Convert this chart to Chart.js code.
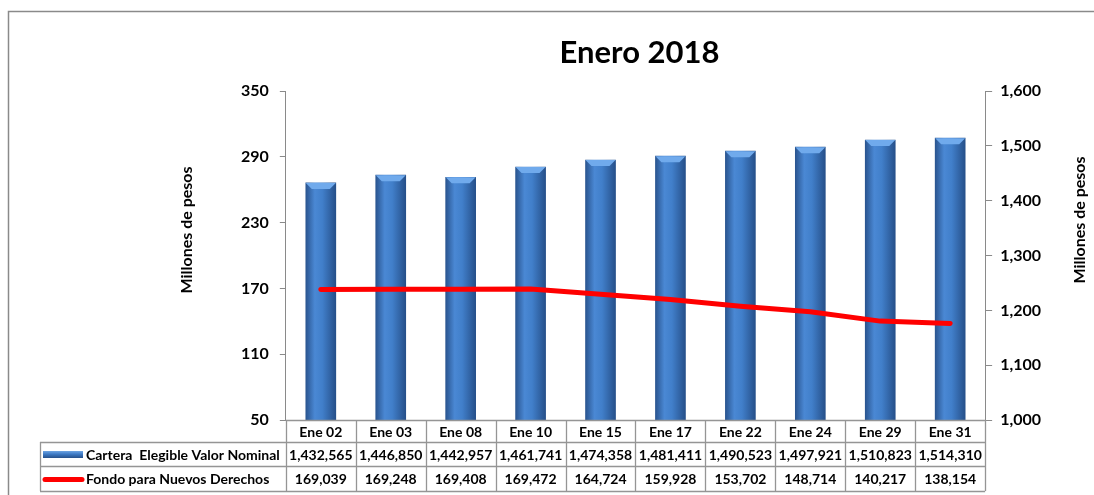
<!DOCTYPE html>
<html>
<head>
<meta charset="utf-8">
<script src="https://cdn.jsdelivr.net/npm/chart.js@4/dist/chart.umd.min.js"></script>
<style>
  html, body { margin: 0; padding: 0; background: #fff; }
  #wrap { width: 1094px; height: 495px; }
</style>
</head>
<body>
<div id="wrap"><canvas id="chart" width="1094" height="495"></canvas></div>
<script>
// Datos (miles de pesos en la tabla, millones en el grafico)
const fechas = ['Ene 02', 'Ene 03', 'Ene 08', 'Ene 10', 'Ene 15', 'Ene 17', 'Ene 22', 'Ene 24', 'Ene 29', 'Ene 31'];
const carteraElegible = [1432565, 1446850, 1442957, 1461741, 1474358, 1481411, 1490523, 1497921, 1510823, 1514310];
const fondoNuevosDerechos = [169039, 169248, 169408, 169472, 164724, 159928, 153702, 148714, 140217, 138154];
const serieNombres = ['Cartera  Elegible Valor Nominal', 'Fondo para Nuevos Derechos'];
const tituloEje = 'Millones de pesos';
const ejeIzq = { min: 50, max: 350, step: 60 };
const ejeDer = { min: 1000, max: 1600, step: 100 };

const FONT = 'Lato, "Liberation Sans", sans-serif';
const fmt = v => v.toLocaleString('en-US');

function barGradient(ctx, x, w) {
    const g = ctx.createLinearGradient(x - w / 2, 0, x + w / 2, 0);
    g.addColorStop(0, '#2a5590');
    g.addColorStop(0.3, '#4a88d4');
    g.addColorStop(0.55, '#417fca');
    g.addColorStop(1, '#26508a');
    return g;
}

// Marco exterior y titulos de los ejes
const framePlugin = {
    id: 'frame',
    beforeDraw(chart) {
        const c = chart.ctx;
        c.save();
        c.fillStyle = '#fff';
        c.fillRect(0, 0, chart.width, chart.height);
        c.strokeStyle = '#8a8a8a';
        c.lineWidth = 1.5;
        c.beginPath();
        c.moveTo(8.5, chart.height);
        c.lineTo(8.5, 11.5);
        c.lineTo(chart.width, 11.5);
        c.stroke();
        c.restore();
    },
    afterDraw(chart) {
        const c = chart.ctx;
        c.save();
        c.fillStyle = '#000';
        c.font = 'bold 16px ' + FONT;
        c.textAlign = 'center';
        c.textBaseline = 'middle';
        [[187, 230], [1080, 220]].forEach(([x, y]) => {
            c.save();
            c.translate(x, y);
            c.rotate(-Math.PI / 2);
            c.fillText(tituloEje, 0, 0);
            c.restore();
        });
        c.restore();
    }
};

// Bisel superior de las barras
const bevelPlugin = {
    id: 'bevel',
    afterDatasetDraw(chart, args) {
        if (args.index !== 0) return;
        const c = chart.ctx;
        c.save();
        args.meta.data.forEach(bar => {
            const l = bar.x - bar.width / 2, r = bar.x + bar.width / 2, t = bar.y;
            c.fillStyle = '#70aaec';
            c.beginPath();
            c.moveTo(l, t);
            c.lineTo(r, t);
            c.lineTo(r - 6, t + 6);
            c.lineTo(l + 6, t + 6);
            c.closePath();
            c.fill();
        });
        c.restore();
    }
};

// Tabla de datos bajo el grafico
const tablePlugin = {
    id: 'dataTable',
    afterDraw(chart) {
        const c = chart.ctx;
        const xs = chart.scales.x;
        const area = chart.chartArea;
        const half = (xs.getPixelForValue(1) - xs.getPixelForValue(0)) / 2;
        const top = area.bottom;
        const rows = [top, top + 22, top + 46, top + 71];
        const tableLeft = 40;
        c.save();
        c.strokeStyle = '#959595';
        c.lineWidth = 1.3;
        c.beginPath();
        c.moveTo(area.left, rows[0] + 0.5); c.lineTo(area.right, rows[0] + 0.5);
        for (let i = 1; i < rows.length; i++) {
            c.moveTo(tableLeft, rows[i] + 0.5); c.lineTo(area.right, rows[i] + 0.5);
        }
        c.moveTo(tableLeft + 0.5, rows[1]); c.lineTo(tableLeft + 0.5, rows[3]);
        fechas.forEach((f, i) => {
            const x = Math.round(xs.getPixelForValue(i) - half) + 0.5;
            c.moveTo(x, rows[0]); c.lineTo(x, rows[3]);
        });
        const xr = Math.round(area.right) + 0.5;
        c.moveTo(xr, rows[0]); c.lineTo(xr, rows[3]);
        c.stroke();

        c.fillStyle = '#000';
        c.font = 'bold 14px ' + FONT;
        c.textAlign = 'center';
        c.textBaseline = 'middle';
        fechas.forEach((f, i) => {
            const x = xs.getPixelForValue(i);
            c.fillText(f, x, (rows[0] + rows[1]) / 2 + 1);
            c.fillText(fmt(carteraElegible[i]), x, (rows[1] + rows[2]) / 2 + 1);
            c.fillText(fmt(fondoNuevosDerechos[i]), x, (rows[2] + rows[3]) / 2 + 1);
        });

        // leyenda
        const y1 = (rows[1] + rows[2]) / 2, y2 = (rows[2] + rows[3]) / 2;
        const g = c.createLinearGradient(0, y1 - 4, 0, y1 + 4);
        g.addColorStop(0, '#7fb2ec');
        g.addColorStop(0.5, '#3f7cc7');
        g.addColorStop(1, '#26508a');
        c.fillStyle = g;
        c.fillRect(43, y1 - 3, 40, 7);
        c.strokeStyle = '#ff0000';
        c.lineWidth = 5;
        c.lineCap = 'round';
        c.beginPath();
        c.moveTo(45, y2 + 1); c.lineTo(82, y2 + 1);
        c.stroke();
        c.fillStyle = '#000';
        c.textAlign = 'left';
        c.font = 'bold 14px ' + FONT;
        c.fillText(serieNombres[0], 86, y1 + 1);
        c.fillText(serieNombres[1], 86, y2 + 1);
        c.restore();
    }
};

const ctx = document.getElementById('chart');
new Chart(ctx, {
    type: 'bar',
    data: {
        labels: fechas,
        datasets: [{
            label: serieNombres[0],
            data: carteraElegible.map(v => v / 1000),
            yAxisID: 'yDer',
            barThickness: 30,
            order: 1,
            backgroundColor: (c) => {
                const chart = c.chart;
                if (!chart.chartArea || !chart.scales.x) return '#3f7cc7';
                return barGradient(chart.ctx, chart.scales.x.getPixelForValue(c.dataIndex), 30);
            },
            borderWidth: 0
        }, {
            type: 'line',
            label: serieNombres[1],
            data: fondoNuevosDerechos.map(v => v / 1000),
            yAxisID: 'yIzq',
            order: 0,
            borderColor: '#ff0000',
            borderWidth: 5,
            borderCapStyle: 'round',
            borderJoinStyle: 'round',
            pointRadius: 0,
            tension: 0,
            fill: false
        }]
    },
    options: {
        responsive: false,
        animation: false,
        layout: { padding: { left: 230, right: 45, top: 15, bottom: 75 } },
        plugins: {
            legend: { display: false },
            tooltip: { enabled: false },
            title: {
                display: true,
                text: 'Enero 2018',
                color: '#000',
                font: { family: FONT, size: 31, weight: 'bold' },
                padding: { top: 19, bottom: 20 }
            }
        },
        scales: {
            x: {
                display: false,
                offset: true
            },
            yIzq: {
                position: 'left',
                min: ejeIzq.min,
                max: ejeIzq.max,
                ticks: {
                    stepSize: ejeIzq.step,
                    color: '#000',
                    padding: 11,
                    font: { family: FONT, size: 16, weight: 'bold' }
                },
                grid: { drawOnChartArea: false, tickLength: 6, color: '#8a8a8a' },
                border: { display: true, color: '#8a8a8a' }
            },
            yDer: {
                position: 'right',
                min: ejeDer.min,
                max: ejeDer.max,
                ticks: {
                    stepSize: ejeDer.step,
                    color: '#000',
                    padding: 8,
                    font: { family: FONT, size: 16, weight: 'bold' },
                    callback: v => fmt(v)
                },
                grid: { drawOnChartArea: false, tickLength: 7, color: '#8a8a8a' },
                border: { display: true, color: '#8a8a8a' }
            }
        }
    },
    plugins: [framePlugin, bevelPlugin, tablePlugin]
});
</script>
</body>
</html>
